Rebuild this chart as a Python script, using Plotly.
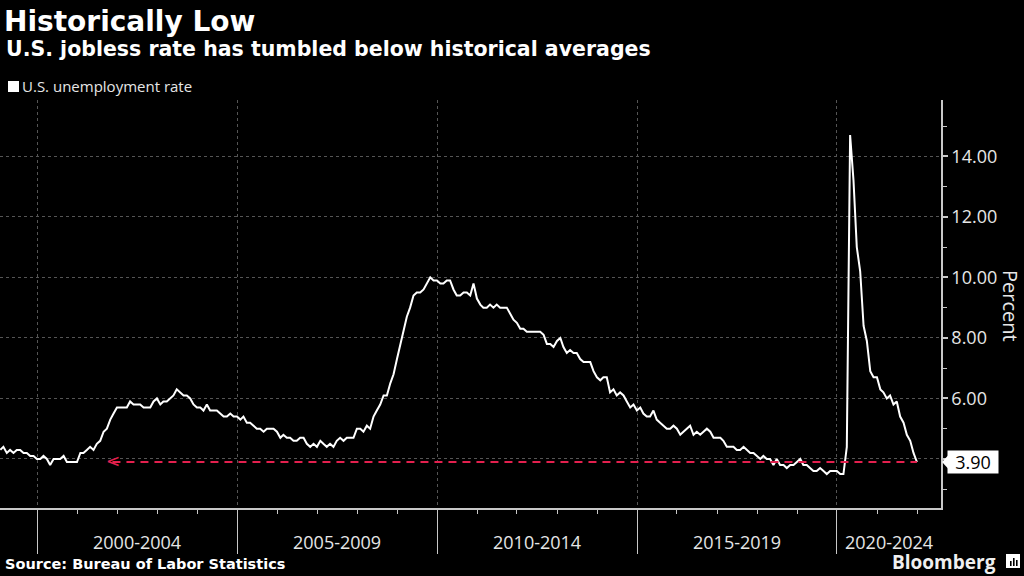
import pandas as pd
import plotly.graph_objects as go

# ---------------- data ----------------
years = list(range(1999, 2022))
unemployment_rate = [
    # 1999
    4.3, 4.4, 4.2, 4.3, 4.2, 4.3, 4.3, 4.2, 4.2, 4.1, 4.1, 4.0,
    # 2000
    4.0, 4.1, 4.0, 3.8, 4.0, 4.0, 4.0, 4.1, 3.9, 3.9, 3.9, 3.9,
    # 2001
    4.2, 4.2, 4.3, 4.4, 4.3, 4.5, 4.6, 4.9, 5.0, 5.3, 5.5, 5.7,
    # 2002
    5.7, 5.7, 5.7, 5.9, 5.8, 5.8, 5.8, 5.7, 5.7, 5.7, 5.9, 6.0,
    # 2003
    5.8, 5.9, 5.9, 6.0, 6.1, 6.3, 6.2, 6.1, 6.1, 6.0, 5.8, 5.7,
    # 2004
    5.7, 5.6, 5.8, 5.6, 5.6, 5.6, 5.5, 5.4, 5.4, 5.5, 5.4, 5.4,
    # 2005
    5.3, 5.4, 5.2, 5.2, 5.1, 5.0, 5.0, 4.9, 5.0, 5.0, 5.0, 4.9,
    # 2006
    4.7, 4.8, 4.7, 4.7, 4.6, 4.6, 4.7, 4.7, 4.5, 4.4, 4.5, 4.4,
    # 2007
    4.6, 4.5, 4.4, 4.5, 4.4, 4.6, 4.7, 4.6, 4.7, 4.7, 4.7, 5.0,
    # 2008
    5.0, 4.9, 5.1, 5.0, 5.4, 5.6, 5.8, 6.1, 6.1, 6.5, 6.8, 7.3,
    # 2009
    7.8, 8.3, 8.7, 9.0, 9.4, 9.5, 9.5, 9.6, 9.8, 10.0, 9.9, 9.9,
    # 2010
    9.8, 9.8, 9.9, 9.9, 9.6, 9.4, 9.4, 9.5, 9.5, 9.4, 9.8, 9.3,
    # 2011
    9.1, 9.0, 9.0, 9.1, 9.0, 9.1, 9.0, 9.0, 9.0, 8.8, 8.6, 8.5,
    # 2012
    8.3, 8.3, 8.2, 8.2, 8.2, 8.2, 8.2, 8.1, 7.8, 7.8, 7.7, 7.9,
    # 2013
    8.0, 7.7, 7.5, 7.6, 7.5, 7.5, 7.3, 7.2, 7.2, 7.2, 6.9, 6.7,
    # 2014
    6.6, 6.7, 6.7, 6.2, 6.3, 6.1, 6.2, 6.1, 5.9, 5.7, 5.8, 5.6,
    # 2015
    5.7, 5.5, 5.4, 5.4, 5.6, 5.3, 5.2, 5.1, 5.0, 5.0, 5.1, 5.0,
    # 2016
    4.8, 4.9, 5.0, 5.1, 4.8, 4.9, 4.8, 4.9, 5.0, 4.9, 4.7, 4.7,
    # 2017
    4.7, 4.6, 4.4, 4.4, 4.4, 4.3, 4.3, 4.4, 4.3, 4.2, 4.2, 4.1,
    # 2018
    4.0, 4.1, 4.0, 4.0, 3.8, 4.0, 3.8, 3.8, 3.7, 3.8, 3.8, 3.9,
    # 2019
    4.0, 3.8, 3.8, 3.7, 3.6, 3.6, 3.7, 3.6, 3.5, 3.6, 3.6, 3.6,
    # 2020
    3.5, 3.5, 4.4, 14.7, 13.2, 11.0, 10.2, 8.4, 7.9, 6.9, 6.7, 6.7,
    # 2021
    6.3, 6.2, 6.0, 6.1, 5.8, 5.9, 5.4, 5.2, 4.8, 4.6, 4.2, 3.9,
]
series_name = "U.S. unemployment rate"
period_labels = ["2000-2004", "2005-2009", "2010-2014", "2015-2019", "2020-2024"]
period_starts = ["2000-01-01", "2005-01-01", "2010-01-01", "2015-01-01", "2020-01-01"]
year_ticks = [f"{y}-01-01" for y in range(1999, 2023)]
y_tickvals = [4, 6, 8, 10, 12, 14]
y_ticktext = ["", "6.00", "8.00", "10.00", "12.00", "14.00"]
y_minor = [3, 5, 7, 9, 11, 13, 15]
reference_start = "2001-11-20"   # where the dashed reference arrow points back to
x_range = ["1999-01-28", "2022-08-08"]
y_range = [2.38, 15.86]

# month-end dates
dates = [pd.Timestamp(y, m, 1) + pd.offsets.MonthEnd(0) for y in years for m in range(1, 13)]
last_date = dates[-1]
last_val = unemployment_rate[-1]

# ---------------- layout helpers ----------------
W, H = 1024, 576
ML, MR, MT, MB = 0, 83, 100, 68
PW, PH = W - ML - MR, H - MT - MB


def px(x):
    return (x - ML) / PW


def py(y):
    return (H - MB - y) / PH


WHITE = "#ffffff"
AXIS = "#c8c8c8"
GRID = "#555555"
RED = "#e3204e"
TICKFONT = dict(family="Open Sans", size=18, color="#e6e6e6")

fig = go.Figure()
fig.add_trace(go.Scatter(
    x=dates, y=unemployment_rate, mode="lines", name=series_name,
    line=dict(color=WHITE, width=2), showlegend=False, hoverinfo="skip",
))
fig.add_trace(go.Scatter(
    x=[reference_start, last_date], y=[last_val, last_val], mode="lines",
    line=dict(color=RED, width=2, dash="8px,6px"), showlegend=False, hoverinfo="skip",
))

annotations = [
    # chevron at the start of the reference line
    dict(x=reference_start, y=last_val, xref="x", yref="y", text="<", showarrow=False,
         xanchor="center", yanchor="middle", xshift=1, yshift=1,
         font=dict(family="DejaVu Sans", size=17, color=RED)),
    # title & subtitle
    dict(x=px(2), y=py(21), xref="paper", yref="paper", xanchor="left", yanchor="middle",
         text="Historically Low", showarrow=False,
         font=dict(family="DejaVu Sans", size=28, color=WHITE, weight="bold")),
    dict(x=px(4), y=py(49), xref="paper", yref="paper", xanchor="left", yanchor="middle",
         text="U.S. jobless rate has tumbled below historical averages", showarrow=False,
         font=dict(family="DejaVu Sans", size=20.5, color=WHITE, weight="bold")),
    # legend text
    dict(x=px(20), y=py(86), xref="paper", yref="paper", xanchor="left", yanchor="middle",
         text=series_name, showarrow=False,
         font=dict(family="Open Sans", size=15, color="#e6e6e6")),
    # source
    dict(x=px(3), y=py(564), xref="paper", yref="paper", xanchor="left", yanchor="middle",
         text="Source: Bureau of Labor Statistics", showarrow=False,
         font=dict(family="DejaVu Sans", size=14.5, color=WHITE, weight="bold")),
    # Bloomberg
    dict(x=px(998), y=py(562), xref="paper", yref="paper", xanchor="right", yanchor="middle",
         text="Bloomberg", showarrow=False,
         font=dict(family="Open Sans", size=19, color="#f0f0f0", weight="bold")),
    # y axis title
    dict(x=px(1011), y=py(306), xref="paper", yref="paper", xanchor="center", yanchor="middle",
         text="Percent", textangle=90, showarrow=False,
         font=dict(family="Open Sans", size=20, color="#e6e6e6")),
    # last value label
    dict(x=1, y=last_val, xref="paper", yref="y", xanchor="left", yanchor="middle",
         xshift=6, text=f"{last_val:.2f}", showarrow=False, bgcolor=WHITE,
         width=46, height=18, borderpad=2,
         font=dict(family="Open Sans", size=18, color="#000000")),
]

# period labels centred in each 5-year block (last one centred in visible part)
for i, lab in enumerate(period_labels):
    start = pd.Timestamp(period_starts[i])
    end = pd.Timestamp(period_starts[i + 1]) if i + 1 < len(period_starts) else pd.Timestamp(x_range[1])
    mid = start + (end - start) / 2
    annotations.append(dict(x=mid, y=py(542), xref="x", yref="paper", xanchor="center",
                            yanchor="middle", text=lab, showarrow=False, font=TICKFONT))

shapes = [
    # legend square
    dict(type="rect", xref="paper", yref="paper", x0=px(8), x1=px(19), y0=py(92), y1=py(81),
         fillcolor=WHITE, line=dict(width=0)),
    # notch of the last-value label
    dict(type="path", xref="paper", yref="y", xsizemode="pixel", ysizemode="pixel",
         xanchor=1, yanchor=last_val, path="M1,0 L7,6.5 L7,-6.5 Z",
         fillcolor=WHITE, line=dict(width=0)),
    # Bloomberg logo
    dict(type="rect", xref="paper", yref="paper", x0=px(1006), x1=px(1020), y0=py(568), y1=py(554),
         fillcolor=WHITE, line=dict(width=0)),
]
for bx, top in [(1010, 561), (1013, 558), (1016, 560)]:
    shapes.append(dict(type="rect", xref="paper", yref="paper", x0=px(bx), x1=px(bx + 1.6),
                       y0=py(566), y1=py(top), fillcolor="#000000", line=dict(width=0)))

fig.update_layout(
    width=W, height=H,
    margin=dict(l=ML, r=MR, t=MT, b=MB, pad=0),
    paper_bgcolor="#000000", plot_bgcolor="#000000",
    showlegend=False,
    annotations=annotations, shapes=shapes,
    xaxis=dict(
        type="date", range=x_range, showline=True, linecolor=AXIS, linewidth=1.5,
        tickmode="array", tickvals=period_starts, showticklabels=False,
        ticks="outside", ticklen=44, tickcolor=AXIS, tickwidth=1,
        showgrid=True, gridcolor=GRID, griddash="dot", gridwidth=1,
        minor=dict(tickmode="array", tickvals=year_ticks, ticks="outside", ticklen=4,
                   tickcolor=AXIS, tickwidth=1, showgrid=False),
        zeroline=False, fixedrange=True,
    ),
    yaxis=dict(
        side="right", range=y_range, showline=True, linecolor=AXIS, linewidth=1.5,
        tickmode="array", tickvals=y_tickvals, ticktext=y_ticktext,
        ticks="outside", ticklen=5, tickcolor=AXIS, tickwidth=1.5,
        tickfont=TICKFONT,
        showgrid=True, gridcolor=GRID, griddash="dot", gridwidth=1,
        minor=dict(tickmode="array", tickvals=y_minor, ticks="outside", ticklen=4,
                   tickcolor=AXIS, tickwidth=1, showgrid=False),
        zeroline=False, fixedrange=True,
    ),
)

fig.write_html(
    "out.html",
    config={"displayModeBar": False},
    post_script="document.body.style.margin='0px';document.body.style.overflow='hidden';",
)
